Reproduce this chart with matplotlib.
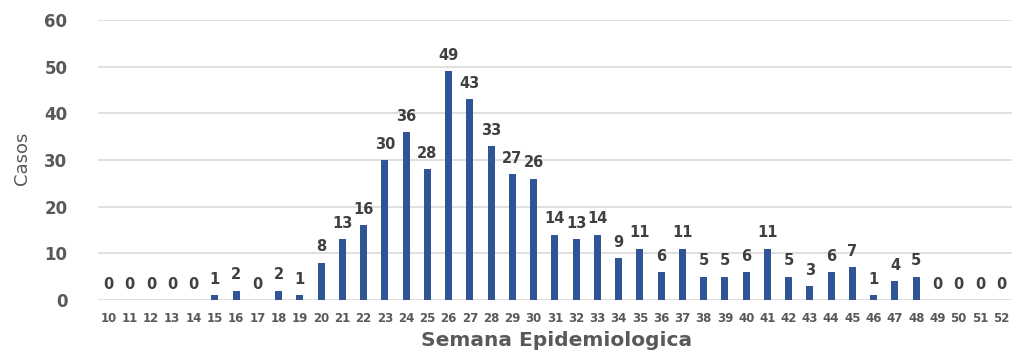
import matplotlib
matplotlib.use("Agg")
import matplotlib.pyplot as plt

# semanas epidemiologicas 10..52 y casos
semanas = [str(s) for s in range(10, 53)]
casos = [0, 0, 0, 0, 0, 1, 2, 0, 2, 1,
         8, 13, 16, 30, 36, 28, 49, 43, 33, 27,
         26, 14, 13, 14, 9, 11, 6, 11, 5, 5,
         6, 11, 5, 3, 6, 7, 1, 4, 5, 0,
         0, 0, 0]
y_ticks = [0, 10, 20, 30, 40, 50, 60]

bar_color = '#2F5597'
grid_color = '#D9D9D9'

fig = plt.figure(figsize=(10.2, 3.52), dpi=100)
ax = fig.add_axes([0.096, 0.148, 0.896, 0.795])

x = list(range(len(semanas)))
ax.bar(x, casos, width=0.33, color=bar_color, zorder=3)

for xi, v in zip(x, casos):
    ax.annotate(str(v), (xi, v), xytext=(0, 6), textcoords='offset points',
                ha='center', va='bottom', fontsize=10.5, fontweight='bold',
                color='#404040')

ax.set_xlim(-0.5, len(semanas) - 0.5)
ax.set_ylim(0, 60)
ax.set_yticks(y_ticks)
ax.set_yticklabels([str(t) for t in y_ticks], fontsize=12, fontweight='bold',
                   color='#595959')
ax.set_xticks(x)
ax.set_xticklabels(semanas, fontsize=8.5, fontweight='bold', color='#595959')
ax.tick_params(axis='both', length=0)
ax.tick_params(axis='x', pad=9)
ax.tick_params(axis='y', pad=22)

ax.grid(axis='y', color=grid_color, linewidth=1.2, zorder=0)
for s in ax.spines.values():
    s.set_visible(False)

fig.text(0.022, 0.55, 'Casos', rotation=90, ha='center', va='center',
         fontsize=13, color='#595959', fontfamily='Liberation Sans Narrow')
fig.text(0.546, 0.006, 'Semana Epidemiologica', ha='center', va='bottom',
         fontsize=14.5, fontweight='bold', color='#595959')

fig.savefig('out.png', dpi=100)
